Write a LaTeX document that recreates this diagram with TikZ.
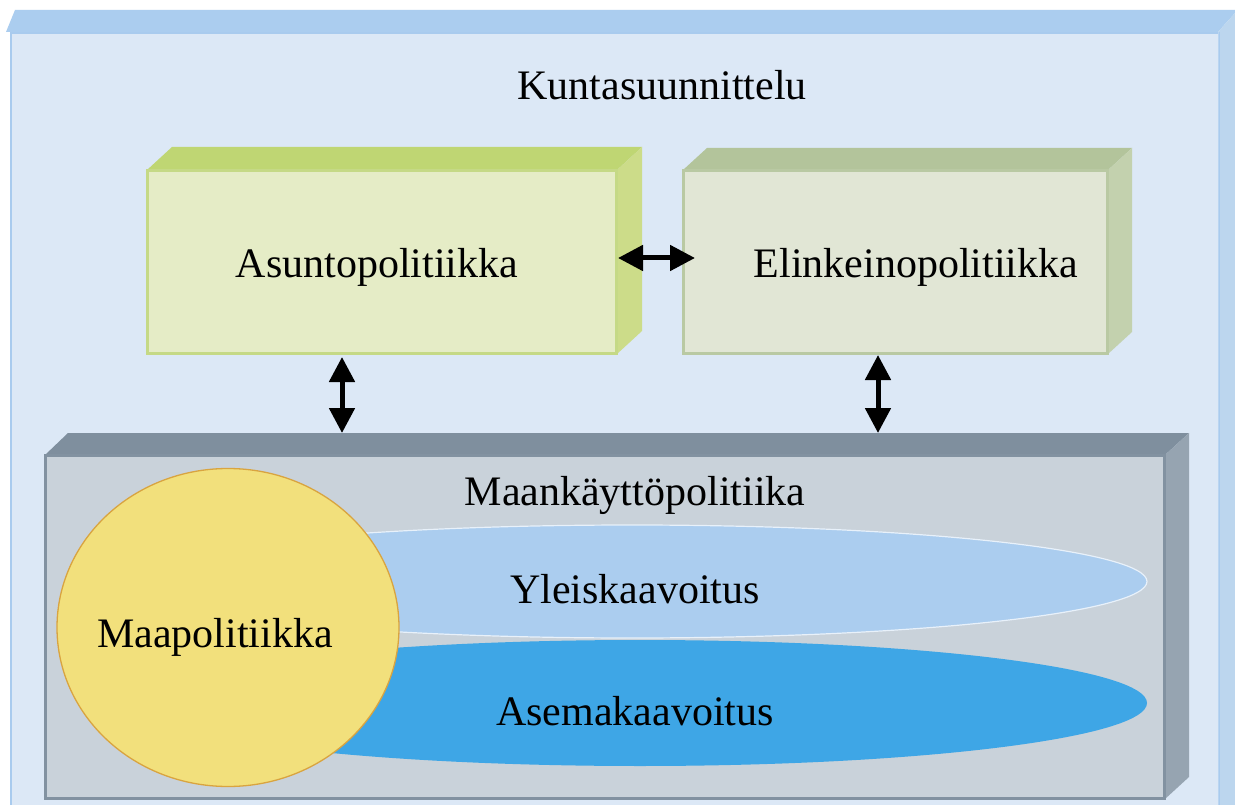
\documentclass[tikz,border=0pt]{standalone}
\usepackage{fontspec}
\setmainfont{Liberation Serif}
\usetikzlibrary{arrows.meta,calc,shapes.geometric}
\definecolor{outerfront}{HTML}{DCE8F6}
\definecolor{outertop}{HTML}{ABCDEF}
\definecolor{outerside}{HTML}{BCD6EE}
\definecolor{outerline}{HTML}{A9CBEE}
\definecolor{asfront}{HTML}{E5ECC6}
\definecolor{asline}{HTML}{C5D986}
\definecolor{astop}{HTML}{BFD673}
\definecolor{asside}{HTML}{CCDC89}
\definecolor{elfront}{HTML}{E1E6D5}
\definecolor{elline}{HTML}{B9C9A3}
\definecolor{eltop}{HTML}{B3C49B}
\definecolor{elside}{HTML}{C3D1AE}
\definecolor{mkfront}{HTML}{C9D2DA}
\definecolor{mkline}{HTML}{8292A1}
\definecolor{mktop}{HTML}{7F8F9E}
\definecolor{mkside}{HTML}{96A4B1}
\definecolor{maafill}{HTML}{F2E07C}
\definecolor{maaline}{HTML}{D9A440}
\definecolor{ylfill}{HTML}{ABCDEF}
\definecolor{ylline}{HTML}{E8F1FA}
\definecolor{asefill}{HTML}{3EA6E6}
\begin{document}
\begin{tikzpicture}[x=1pt,y=-1pt,
  txt/.style={font=\fontsize{42}{50}\selectfont, inner sep=0pt, anchor=base},
  front/.style={rectangle, anchor=north west, inner sep=0pt, line width=2pt},
  dblarrow/.style={{Triangle[width=25pt,length=25pt]}-{Triangle[width=25pt,length=25pt]}, line width=5pt, black}]
\useasboundingbox (0,0) rectangle (1235,805);
\begin{scope}
\clip (0,0) rectangle (1235,805);
\fill[white] (0,0) rectangle (1235,805);
% outer box
\fill[outertop] (6,32) -- (15,10) -- (1235,10) -- (1235,13) -- (1218,32) -- cycle;
\fill[outerside] (1218,32) -- (1235,13) -- (1235,810) -- (1218,810) -- cycle;
\node[front, draw=outerline, fill=outerfront, minimum width=1208, minimum height=790] (kunta) at (10,32) {};
\draw[outerline!80!white, line width=1pt] (1218,32) -- (1218,810);

% Asuntopolitiikka box
\node[front, draw=asline, fill=asfront, minimum width=468, minimum height=182] (as) at (147,170) {};
\fill[astop] (as.north west) -- ($(as.north west)+(25,-23)$) -- ($(as.north east)+(25,-23)$) -- (as.north east) -- cycle;
\fill[asside] (as.north east) -- ($(as.north east)+(25,-23)$) -- ($(as.south east)+(25,-23)$) -- (as.south east) -- cycle;
\draw[asline, line width=2pt] (as.north west) rectangle (as.south east);

% Elinkeinopolitiikka box
\node[front, draw=elline, fill=elfront, minimum width=423, minimum height=182] (el) at (683,170) {};
\fill[eltop] (el.north west) -- ($(el.north west)+(24,-22)$) -- ($(el.north east)+(24,-22)$) -- (el.north east) -- cycle;
\fill[elside] (el.north east) -- ($(el.north east)+(24,-22)$) -- ($(el.south east)+(24,-22)$) -- (el.south east) -- cycle;
\draw[elline, line width=2pt] (el.north west) rectangle (el.south east);

% Maankayttopolitiikka box
\node[front, draw=mkline, fill=mkfront, minimum width=1118, minimum height=342] (mk) at (45,455) {};
\fill[mktop] (mk.north west) -- ($(mk.north west)+(23,-22)$) -- ($(mk.north east)+(24,-22)$) -- (mk.north east) -- cycle;
\fill[mkside] (mk.north east) -- ($(mk.north east)+(24,-22)$) -- ($(mk.south east)+(24,-22)$) -- (mk.south east) -- cycle;
\draw[mkline, line width=2.5pt] (mk.north west) rectangle (mk.south east);

% ellipses
\node[ellipse, draw=ylline, line width=1.2pt, fill=ylfill, minimum width=1030, minimum height=113, inner sep=0pt] (yl) at (632,581.5) {};
\node[ellipse, fill=asefill, minimum width=1014, minimum height=126, inner sep=0pt] (ase) at (640,703) {};
\node[ellipse, draw=maaline, line width=1.3pt, fill=maafill, minimum width=342, minimum height=318, inner sep=0pt] (maap) at (228,627.5) {};

% texts
\node[txt] (ktitle) at (662,100) {Kuntasuunnittelu};
\node[txt] (astxt) at (377,278) {Asuntopolitiikka};
\node[txt] (eltxt) at (916,278) {Elinkeinopolitiikka};
\node[txt] (mktxt) at (635,505) {Maankäyttöpolitiika};
\node[txt] (yltxt) at (635,603) {Yleiskaavoitus};
\node[txt] (asetxt) at (635,725) {Asemakaavoitus};
\node[txt] (maatxt) at (215,647) {Maapolitiikka};

% arrows
\draw[dblarrow] ($(as.east)+(1,-4)$) -- ($(el.west)+(12,-4)$);
\draw[dblarrow] ($(as.south west)+(195,3)$) -- ($(mk.north west)+(297,-22)$);
\draw[dblarrow] ($(el.south west)+(195,1)$) -- ($(mk.north west)+(833,-22)$);
\end{scope}
\end{tikzpicture}
\end{document}
